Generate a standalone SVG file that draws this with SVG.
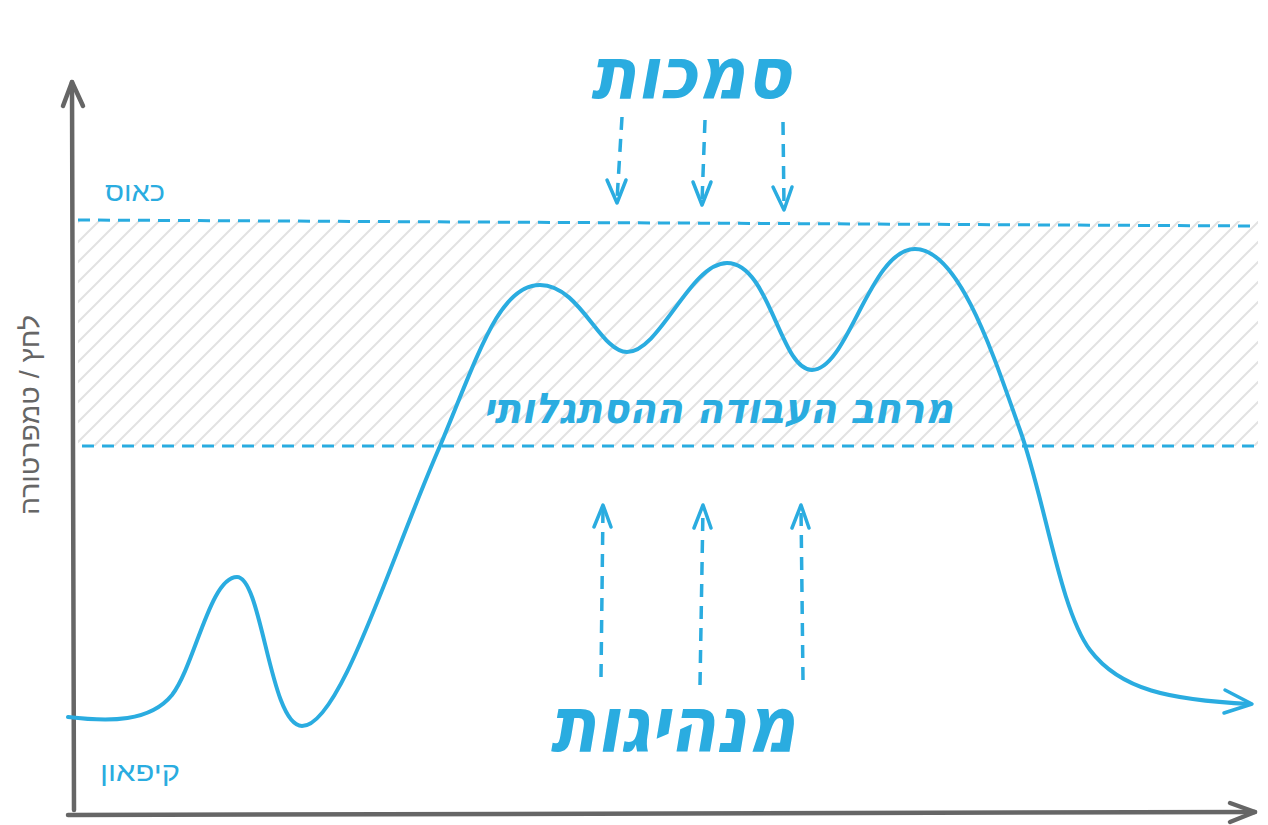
<svg xmlns="http://www.w3.org/2000/svg" width="1268" height="825" viewBox="0 0 1268 825">
<style>
.ax{stroke:#666;stroke-width:4.5;fill:none;stroke-linecap:round;stroke-linejoin:round}
.bl{stroke:#2aace0;fill:none;stroke-linecap:round;stroke-linejoin:round}
.dash{stroke:#2aace0;stroke-width:3;fill:none;stroke-dasharray:12 8}
.arr{stroke:#2aace0;stroke-width:3.5;fill:none;stroke-dasharray:13 9}
.head{stroke:#2aace0;stroke-width:3.5;fill:none;stroke-linecap:round;stroke-linejoin:round}
.hand{font-family:"DejaVu Sans","Liberation Sans",sans-serif;font-weight:bold;font-style:oblique;fill:#2aace0;text-anchor:middle}
.lab{font-family:"Liberation Sans","DejaVu Sans",sans-serif;fill:#2aace0;font-size:27px;text-anchor:middle}
</style>
<defs>
<pattern id="hatch" patternUnits="userSpaceOnUse" width="20" height="20">
<path d="M-5,25 L25,-5 M-15,15 L15,-15 M5,35 L35,5" stroke="#e2e2e2" stroke-width="2"/>
</pattern>
</defs>
<rect width="1268" height="825" fill="#fff"/>
<g id="band">
<rect x="78" y="221" width="1180" height="225" fill="url(#hatch)"/>
</g>
<g id="axes">
<path class="ax" d="M74,810 L72,82"/>
<path class="ax" d="M63,106 L72,82 L83,106"/>
<path class="ax" d="M68,815 L1255,812"/>
<path class="ax" d="M1230,803 L1255,812 L1230,822"/>
</g>
<g id="connectors">
<path class="dash" d="M78,220 L1258,226"/>
<path class="dash" d="M82,446 L1258,446"/>
<path class="arr" d="M622,117 L617,200"/>
<path class="head" d="M607,180 L617,203 L626,180"/>
<path class="arr" d="M705,120 L702,202"/>
<path class="head" d="M693,182 L702,205 L711,182"/>
<path class="arr" d="M783,122 L784,207"/>
<path class="head" d="M773,187 L784,210 L792,187"/>
<path class="arr" d="M601,677 L603,508"/>
<path class="head" d="M594,527 L603,505 L611,527"/>
<path class="arr" d="M700,685 L703,508"/>
<path class="head" d="M694,528 L703,505 L711,528"/>
<path class="arr" d="M803,680 L801,508"/>
<path class="head" d="M792,528 L801,505 L809,528"/>
</g>
<g id="curve">
<path class="bl" stroke-width="4" d="M68,717 C110,722 150,722 172,695 C195,665 210,577 237,577 C262,577 270,726 302,726 C340,726 390,560 440,446 C480,350 500,285 540,285 C580,285 600,352 627,352 C660,352 690,263 727,263 C770,263 780,370 812,370 C848,370 870,249 915,249 C960,249 995,360 1020,430 C1045,500 1060,610 1090,650 C1120,690 1170,700 1250,704"/>
<path class="head" stroke-width="4" d="M1225,690 L1252,704 L1224,713"/>
</g>
<g id="texts">
<text class="hand" x="691" y="98" font-size="72" textLength="200" lengthAdjust="spacingAndGlyphs">סמכות</text>
<text class="hand" x="718" y="423" font-size="42" textLength="470" lengthAdjust="spacingAndGlyphs">מרחב העבודה ההסתגלותי</text>
<text class="hand" x="673" y="752" font-size="78" textLength="245" lengthAdjust="spacingAndGlyphs">מנהיגות</text>
<text class="lab" x="135" y="201" textLength="60" lengthAdjust="spacingAndGlyphs">כאוס</text>
<text class="lab" x="140" y="781" textLength="80" lengthAdjust="spacingAndGlyphs">קיפאון</text>
<text font-family="Liberation Sans,DejaVu Sans,sans-serif" font-size="27" fill="#666" text-anchor="middle" textLength="200" lengthAdjust="spacingAndGlyphs" transform="translate(39,415) rotate(-90)">לחץ / טמפרטורה</text>
</g>
</svg>
